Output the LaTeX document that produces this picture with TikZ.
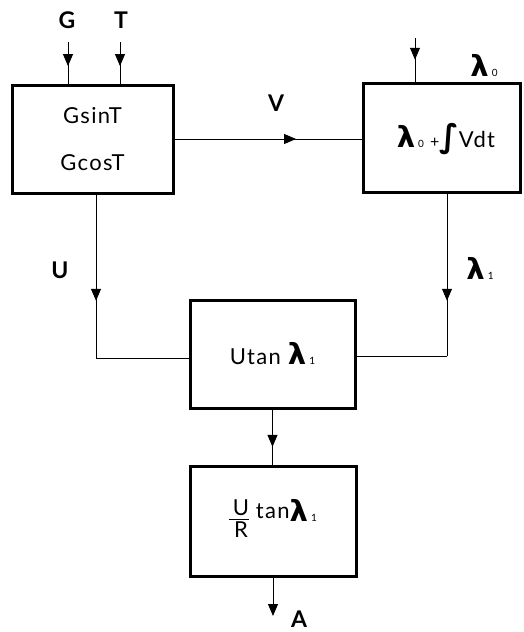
\documentclass[tikz,border=0pt]{standalone}
\usepackage{fontspec}
\setmainfont{Lato}[LetterSpace=6]
\newfontfamily\symfont{DejaVu Sans}
\usetikzlibrary{positioning,arrows.meta,decorations.markings}
\newcommand{\lam}[1]{{\symfont\bfseries\fontsize{29}{29}\selectfont λ}\kern3pt{\fontsize{10}{10}\selectfont #1}}

\begin{document}
\begin{tikzpicture}[
    x=1pt, y=-1pt,
    font=\fontsize{22}{26}\selectfont,
    box/.style={draw, line width=3pt, align=center, inner sep=0pt},
    sig/.style={font=\bfseries\fontsize{23}{26}\selectfont},
    wire/.style={line width=1pt},
    midarrow/.style={wire, postaction={decorate},
      decoration={markings, mark=at position #1 with
        {\arrow{Triangle[length=12pt,width=10pt]}}}}]
  \useasboundingbox (0,0) rectangle (523,632);
  \node[box, minimum width=161pt, minimum height=108pt]
    (trig) at (92.5,139) {GsinT\\[21pt]GcosT};
  \node[box, minimum width=157pt, minimum height=109pt]
    (integ) at (441.5,137.5) {};
  \node at (446,139) {\lam{0}\;{\fontsize{16}{16}\selectfont +}%
    {\symfont\bfseries\fontsize{32}{32}\selectfont ∫}Vdt};
  \node[box, minimum width=165pt, minimum height=108pt]
    (prod) at (272.5,354) {Utan \lam{1}};
  \node[box, minimum width=166pt, minimum height=110pt]
    (ratio) at (273,521) {\begin{tabular}{@{\,}c@{}}U\\[-4pt]\hline R\end{tabular}
      \raisebox{8pt}{tan}\raisebox{5pt}{\lam{1}}};
  % inputs
  \coordinate (gin) at (68,42);
  \coordinate (tin) at (120,42);
  \coordinate (lin) at (415,38);
  \node[sig] (glbl) at (67,20) {G};
  \node[sig] (tlbl) at (121,20) {T};
  \node (l0lbl) at (484,66) {\lam{0}};
  \draw[midarrow=0.58] (gin) -- (gin |- trig.north);
  \draw[midarrow=0.58] (tin) -- (tin |- trig.north);
  \draw[midarrow=0.5] (lin) -- (lin |- integ.north);
  % V
  \node[sig] (vlbl) at (276,103) {V};
  \draw[midarrow=0.65] (trig.east) -- (trig.east -| integ.west);
  % U and lambda_1 into the product
  \coordinate (ucorner) at (96,358);
  \coordinate (lcorner) at (447,356);
  \node[sig] (ulbl) at (60,270) {U};
  \node (l1lbl) at (480,268) {\lam{1}};
  \draw[midarrow=0.65] (ucorner |- trig.south) -- (ucorner);
  \draw[wire] (ucorner) -- (ucorner -| prod.west);
  \draw[midarrow=0.66] (lcorner |- integ.south) -- (lcorner);
  \draw[wire] (lcorner) -- (lcorner -| prod.east);
  % down to the output
  \draw[midarrow=0.68] (prod.south) -- (prod.south |- ratio.north);
  \coordinate (aout) at (273,616);
  \draw[wire, -{Triangle[length=12pt,width=10pt]}] (ratio.south) -- (aout);
  \node[sig] (albl) at (299,619) {A};
\end{tikzpicture}
\end{document}
